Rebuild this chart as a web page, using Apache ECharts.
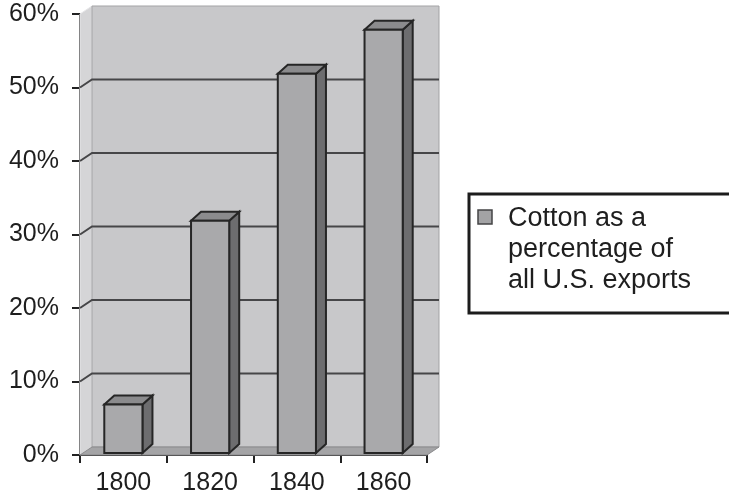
<!DOCTYPE html>
<html>
<head>
<meta charset="utf-8">
<script src="https://cdn.jsdelivr.net/npm/echarts@6/dist/echarts.min.js"></script>
<style>
  html, body { margin: 0; padding: 0; background: #ffffff; overflow: hidden; }
  #chart { width: 729px; height: 497px; }
</style>
</head>
<body>
<div id="chart"></div>
<script>
// Cotton exports as a share of all U.S. exports, by decade
const years = ['1800', '1820', '1840', '1860'];
const cottonShare = [7, 32, 52, 58];
const yTicks = [0, 10, 20, 30, 40, 50, 60];
const legendLines = ['Cotton as a', 'percentage of', 'all U.S. exports'];
const seriesName = legendLines.join(' ');

// 3-D look: depth offsets of the back wall and of each column
const WALL_DX = 12, WALL_DY = -8;
const BAR_DX = 10, BAR_DY = -9;
const BAR_RATIO = 0.44;
const FONT = '"Liberation Sans", Arial, Helvetica, sans-serif';
const EDGE = '#262626';

function renderFrame(params, api) {
  const cs = params.coordSys;
  const x0 = cs.x, x1 = cs.x + cs.width;
  const yT = cs.y, yB = cs.y + cs.height;
  const dx = WALL_DX, dy = WALL_DY;
  const children = [];
  // left side wall
  children.push({
    type: 'polygon',
    shape: { points: [[x0, yT], [x0 + dx, yT + dy], [x0 + dx, yB + dy], [x0, yB]] },
    style: { fill: '#d5d5d7', stroke: '#e6e6e8', lineWidth: 1 }
  });
  // back wall
  children.push({
    type: 'rect',
    shape: { x: x0 + dx, y: yT + dy, width: cs.width, height: cs.height },
    style: { fill: '#c8c8ca', stroke: '#a3a3a5', lineWidth: 1 }
  });
  // gridlines: across the side wall, then along the back wall
  yTicks.filter(v => v > yTicks[0] && v < yTicks[yTicks.length - 1]).forEach(v => {
    const y = api.coord([0, v])[1];
    children.push({
      type: 'polyline',
      shape: { points: [[x0, y], [x0 + dx, y + dy], [x1 + dx, y + dy]] },
      style: { stroke: '#464648', lineWidth: 2, fill: null }
    });
  });
  // floor
  children.push({
    type: 'polygon',
    shape: { points: [[x0, yB], [x1, yB], [x1 + dx, yB + dy], [x0 + dx, yB + dy]] },
    style: { fill: '#a4a4a6', stroke: '#8a8a8c', lineWidth: 1 }
  });
  return { type: 'group', children };
}

function renderBar(params, api) {
  const i = api.value(0), v = api.value(1);
  const base = api.coord([i, 0]);
  const top = api.coord([i, v]);
  const w = api.size([1, 0])[0] * BAR_RATIO;
  const xl = base[0] - w / 2, xr = xl + w;
  const yb = base[1] - 2, yt = top[1] + 1;
  const dx = BAR_DX, dy = BAR_DY;
  return {
    type: 'group',
    children: [
      { // side face
        type: 'polygon',
        shape: { points: [[xr, yb], [xr + dx, yb + dy], [xr + dx, yt + dy], [xr, yt]] },
        style: { fill: '#6d6d6f', stroke: EDGE, lineWidth: 2 }
      },
      { // top face
        type: 'polygon',
        shape: { points: [[xl, yt], [xr, yt], [xr + dx, yt + dy], [xl + dx, yt + dy]] },
        style: { fill: '#8b8b8d', stroke: EDGE, lineWidth: 2 }
      },
      { // front face
        type: 'rect',
        shape: { x: xl, y: yt, width: w, height: yb - yt },
        style: { fill: '#a9a9ab', stroke: EDGE, lineWidth: 2 }
      }
    ]
  };
}

const chart = echarts.init(document.getElementById('chart'), null, { renderer: 'canvas', width: 729, height: 497 });

// legend box: open on its right side, reaching the chart's edge
const BOX = { left: 469, top: 194, right: 729, bottom: 313 };

chart.setOption({
  animation: false,
  backgroundColor: '#ffffff',
  grid: { left: 80, top: 14, width: 347, height: 441, containLabel: false },
  xAxis: {
    type: 'category',
    data: years,
    boundaryGap: true,
    axisLine: { lineStyle: { color: '#222222', width: 2 } },
    axisTick: { show: true, length: 8, lineStyle: { color: '#222222', width: 2 } },
    axisLabel: { color: '#1e1e1e', fontSize: 25, fontFamily: FONT, margin: 16 },
    splitLine: { show: false }
  },
  yAxis: {
    type: 'value',
    min: yTicks[0],
    max: yTicks[yTicks.length - 1],
    interval: yTicks[1] - yTicks[0],
    axisLine: { show: true, lineStyle: { color: '#222222', width: 2 } },
    axisTick: { show: true, length: 8, lineStyle: { color: '#222222', width: 2 } },
    axisLabel: { color: '#1e1e1e', fontSize: 25, fontFamily: FONT, margin: 21, formatter: '{value}%' },
    splitLine: { show: false }
  },
  series: [
    {
      type: 'custom',
      name: 'frame',
      silent: true,
      z: 1,
      renderItem: renderFrame,
      data: [[0, 0]],
      encode: { x: 0, y: 1 }
    },
    {
      type: 'custom',
      name: seriesName,
      z: 3,
      renderItem: renderBar,
      data: years.map((yr, i) => [i, cottonShare[i]]),
      encode: { x: 0, y: 1 }
    }
  ],
  graphic: {
    elements: [
      {
        type: 'polyline',
        shape: {
          points: [
            [BOX.right, BOX.top], [BOX.left, BOX.top],
            [BOX.left, BOX.bottom], [BOX.right, BOX.bottom]
          ]
        },
        style: { fill: null, stroke: '#1c1c1c', lineWidth: 3, lineCap: 'butt' }
      },
      {
        type: 'rect',
        shape: { x: 478, y: 210, width: 14, height: 14 },
        style: { fill: '#a3a3a5', stroke: '#444446', lineWidth: 1.5 }
      },
      {
        type: 'text',
        x: 508,
        y: 203,
        style: {
          text: legendLines.join('\n'),
          font: '27px ' + FONT,
          lineHeight: 31,
          fill: '#1e1e1e'
        }
      }
    ]
  }
});
</script>
</body>
</html>
